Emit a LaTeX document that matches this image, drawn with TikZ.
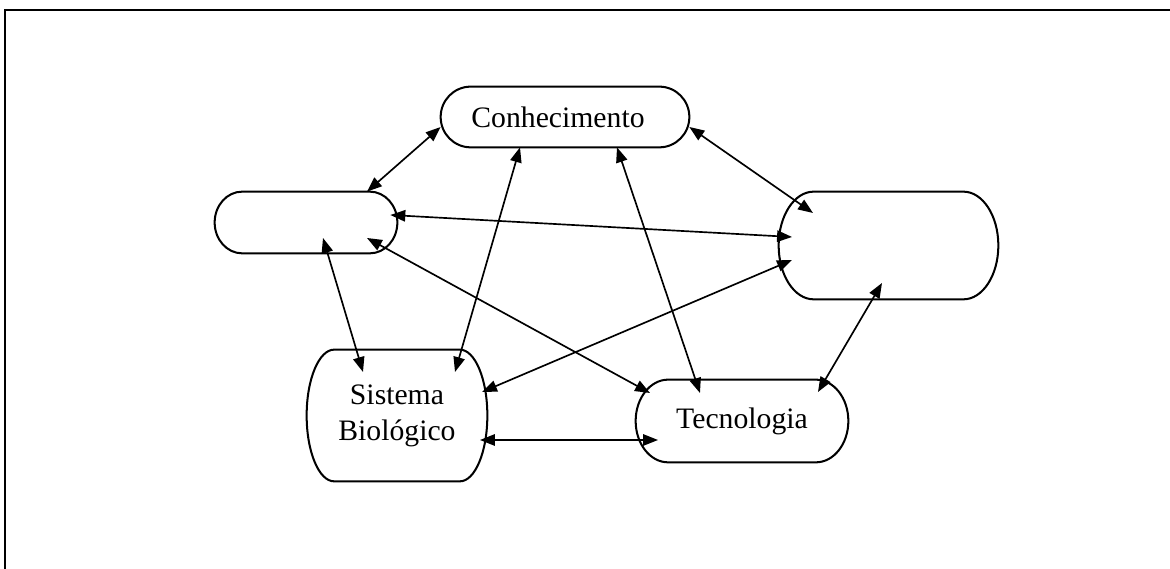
\documentclass[tikz,border=0pt]{standalone}
\usepackage{fontspec}
\setmainfont{Liberation Serif}
\usetikzlibrary{calc, arrows.meta}

% outline of a terminator: straight top and bottom, half ellipses at both ends
\newcommand{\termshape}[2]{%
  \draw[outline] let \p1=(#1.north), \p2=(#1.south), \n1={(\y1-\y2)/2} in
    ([xshift=#2 cm]#1.north west) -- ([xshift=-#2 cm]#1.north east)
    arc[start angle=90, end angle=-90, x radius=#2 cm, y radius=\n1]
    -- ([xshift=#2 cm]#1.south west)
    arc[start angle=270, end angle=90, x radius=#2 cm, y radius=\n1] -- cycle;
}

\begin{document}
\begin{tikzpicture}[
    box/.style={inner sep=0pt, align=center,
        font=\fontsize{16.9}{20.4}\selectfont},
    outline/.style={line width=1.15pt},
    link/.style={line width=0.95pt, >={Triangle[length=8.5pt, width=6.5pt]}, <->},
    frame/.style={line width=1.3pt},
  ]
  \useasboundingbox (0,0) rectangle (23.4,11.38);

  % ---- open frame (top and left edges only) ----
  \draw[frame] (0.1,0) -- (0.1,11.18) -- (23.4,11.18);

  % ---- the five terminators ----
  \node[box, minimum width=4.96cm, minimum height=1.2cm]  (cs)  at (11.30, 9.04) {Conhecimento\hspace{0.28cm}};
  \node[box, minimum width=3.64cm, minimum height=1.22cm] (lft) at (6.12, 6.93) {};
  \node[box, minimum width=4.38cm, minimum height=2.14cm] (rgt) at (17.77, 6.47) {};
  \node[box, minimum width=3.60cm, minimum height=2.62cm] (sb)  at (7.94, 3.07) {Sistema\\Biológico};
  \node[box, minimum width=4.24cm, minimum height=1.64cm] (tec) at (14.84, 2.96) {Tecnologia};

  \foreach \nm/\r in {cs/0.6, lft/0.55, rgt/0.7, sb/0.55, tec/0.65}{
      \termshape{\nm}{\r}
    }

  % ---- connectors (all two-way) ----
  \draw[link] ([shift={(1.22,0)}]lft.north)      -- ([shift={(0,-0.2)}]cs.west);
  \draw[link] ([shift={(0,-0.2)}]cs.east)        -- ([shift={(-1.51,0.65)}]rgt.center);
  \draw[link] ([shift={(-0.9,0)}]cs.south)       -- ([shift={(1.16,0.87)}]sb.center);
  \draw[link] ([shift={(1.04,0)}]cs.south)       -- ([shift={(-0.84,0.56)}]tec.center);
  \draw[link] ([shift={(-0.14,0.15)}]lft.east)   -- ([shift={(-1.93,0.17)}]rgt.center);
  \draw[link] ([shift={(0.34,-0.31)}]lft.center) -- ([shift={(-0.68,0.87)}]sb.center);
  \draw[link] ([shift={(1.22,-0.31)}]lft.center) -- ([shift={(-1.84,0.56)}]tec.center);
  \draw[link] ([shift={(-1.93,-0.29)}]rgt.center) -- ([shift={(1.7,0.47)}]sb.center);
  \draw[link] ([shift={(-0.13,-0.75)}]rgt.center) -- ([shift={(1.52,0.58)}]tec.center);
  \draw[link] ([shift={(1.66,-0.49)}]sb.center)  -- ([shift={(-1.68,-0.38)}]tec.center);

\end{tikzpicture}
\end{document}
